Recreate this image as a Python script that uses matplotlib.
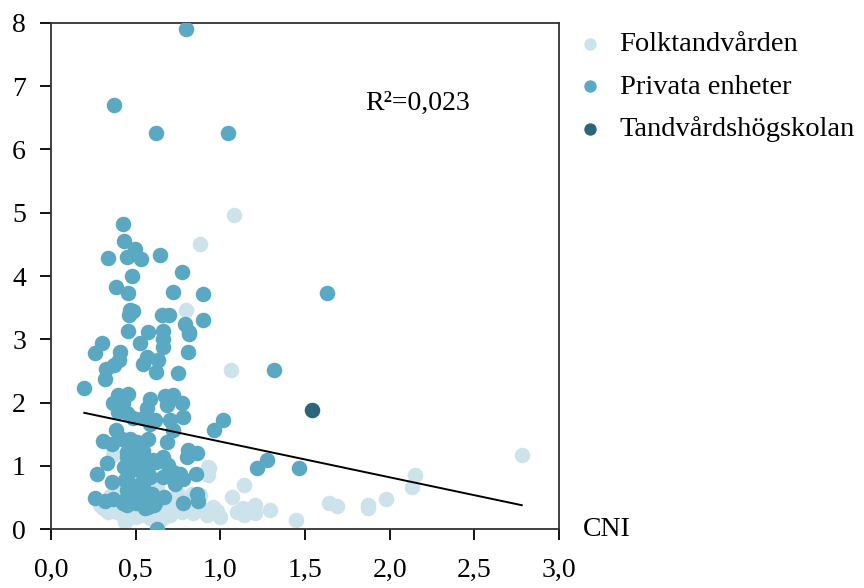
import numpy as np
import matplotlib.pyplot as plt

plt.rcParams['font.family'] = ['Liberation Serif', 'DejaVu Serif']

folk_x = [1.08, 0.88, 0.80, 1.063, 2.78, 2.15, 2.13, 1.977, 1.87, 1.87, 1.64, 1.69,
          1.447, 1.294, 1.205, 1.205, 1.14, 1.14, 0.929, 0.929, 1.067, 1.097, 1.136,
          0.998, 0.959, 0.92, 0.84, 0.772, 0.762, 0.703, 0.654, 0.585, 0.88, 0.831,
          0.585, 0.624, 0.683, 0.457, 0.427, 0.447, 0.388, 0.368, 0.339, 0.309, 0.289,
          0.368, 0.408, 0.52, 0.60, 0.72, 0.80, 0.90, 0.98, 0.55, 0.50, 0.65, 0.75,
          0.87, 0.35, 0.42, 0.53, 0.437, 0.663, 0.935]
folk_y = [4.97, 4.50, 3.47, 2.51, 1.18, 0.86, 0.67, 0.47, 0.39, 0.34, 0.42, 0.37,
          0.15, 0.30, 0.39, 0.26, 0.22, 0.70, 0.98, 0.85, 0.51, 0.27, 0.33,
          0.19, 0.35, 0.22, 0.25, 0.27, 0.43, 0.22, 0.27, 0.17, 0.54, 0.56,
          0.62, 0.67, 0.91, 0.27, 0.22, 0.17, 0.27, 0.35, 0.27, 0.33, 0.38,
          1.17, 0.62, 0.30, 0.28, 0.35, 0.33, 0.30, 0.28, 0.22, 0.20, 0.40, 0.55,
          0.38, 0.52, 0.50, 0.55, 0.12, 0.17, 0.97]

priv_x = [0.80, 0.374, 0.62, 1.045,
          0.423, 0.431, 0.494, 0.451, 0.335, 0.533, 0.646, 0.774, 0.480, 0.382, 0.455,
          0.719, 0.896, 1.63, 0.467, 0.486, 0.459, 0.654, 0.699, 0.79, 0.815, 0.817,
          0.90, 0.455, 0.573, 0.661, 0.66, 0.661, 0.526, 0.303, 0.262, 0.408, 0.403,
          0.811, 0.569, 0.541, 0.630, 0.374, 0.325, 0.620, 0.750, 1.317, 0.319, 0.197,
          0.398, 0.457, 0.368, 0.427, 0.398, 0.447, 0.486, 0.585, 0.569, 0.545, 0.614,
          0.585, 0.673, 0.719, 0.683, 0.772, 0.703, 0.781, 0.722, 0.683, 1.014, 0.963,
          0.384, 0.309, 0.358, 0.418, 0.467, 0.506, 0.575, 0.535, 0.447, 0.811, 0.861,
          0.801, 0.477, 0.545,
          0.447, 0.486, 0.565, 0.604, 0.663, 0.693, 0.620, 0.333, 0.433, 0.555, 1.215,
          1.278, 1.467, 0.270, 0.358, 0.447, 0.526, 0.477, 0.585, 0.575, 0.663, 0.722,
          0.762, 0.781, 0.732, 0.855, 0.437, 0.467, 0.545, 0.506, 0.467, 0.447, 0.545,
          0.260, 0.319, 0.368, 0.447, 0.451, 0.502, 0.555, 0.575, 0.608, 0.669, 0.781,
          0.861, 0.870, 0.496, 0.427, 0.575, 0.595, 0.614, 0.624]
priv_y = [7.90, 6.70, 6.26, 6.26,
          4.82, 4.56, 4.42, 4.30, 4.28, 4.27, 4.33, 4.07, 4.00, 3.82, 3.73,
          3.75, 3.71, 3.74, 3.46, 3.45, 3.38, 3.38, 3.39, 3.24, 3.12, 3.08,
          3.30, 3.13, 3.12, 3.13, 3.00, 2.88, 2.95, 2.95, 2.79, 2.80, 2.68,
          2.80, 2.72, 2.61, 2.67, 2.60, 2.53, 2.49, 2.47, 2.51, 2.37, 2.23,
          2.12, 2.13, 2.00, 1.99, 1.85, 1.83, 1.75, 2.06, 1.91, 1.75, 1.72,
          1.67, 2.10, 2.12, 1.96, 1.99, 1.72, 1.77, 1.56, 1.38, 1.73, 1.56,
          1.56, 1.39, 1.35, 1.43, 1.43, 1.38, 1.43, 1.25, 1.22, 1.25, 1.21,
          1.14, 1.30, 1.24,
          1.14, 1.09, 1.04, 1.09, 1.14, 1.01, 1.06, 1.05, 0.98, 1.01, 0.97,
          1.09, 0.97, 0.88, 0.75, 0.93, 0.93, 0.93, 0.83, 0.89, 0.83, 0.91,
          0.88, 0.80, 0.72, 0.88, 0.77, 0.72, 0.67, 0.62, 0.64, 0.62, 0.77,
          0.50, 0.44, 0.47, 0.51, 0.38, 0.41, 0.33, 0.46, 0.38, 0.51, 0.42,
          0.56, 0.45, 0.51, 0.41, 0.35, 0.56, 0.41, 0.01]

thsk_x = [1.542]
thsk_y = [1.89]

# linear fit shown in the report
fit_intercept = 1.95
fit_slope = -0.565

fig = plt.figure(figsize=(8.64, 5.88), dpi=100)
ax = fig.add_axes([0.059, 0.100, 0.588, 0.861])

msize = 125
ax.scatter(folk_x, folk_y, s=msize, color='#cde3eb', linewidths=0, label='Folktandvården', zorder=2)
ax.scatter(priv_x, priv_y, s=msize, color='#5ba8c3', linewidths=0, label='Privata enheter', zorder=3)
ax.scatter(thsk_x, thsk_y, s=msize, color='#2c667b', linewidths=0, label='Tandvårdshögskolan', zorder=4)

all_x = np.array(folk_x + priv_x + thsk_x)
xs = np.array([all_x.min(), all_x.max()])
ax.plot(xs, fit_intercept + fit_slope * xs, color='black', lw=1.4, zorder=5)

ax.set_xlim(0, 3.0)
ax.set_ylim(0, 8)
ax.set_xticks(np.arange(0, 3.01, 0.5))
ax.set_xticklabels([f'{v:.1f}'.replace('.', ',') for v in np.arange(0, 3.01, 0.5)])
ax.set_yticks(range(0, 9))
ax.tick_params(axis='x', direction='out', length=8, width=1.3, pad=13, labelsize=20)
ax.tick_params(axis='y', direction='out', length=8, width=1.3, pad=10, labelsize=20)
for sp in ax.spines.values():
    sp.set_linewidth(1.3)
    sp.set_color('#333333')

ax.text(1.855, 6.73, 'R²=0,023', fontsize=20, va='center', ha='left')
ax.text(1.047, 0.0, 'CNI', transform=ax.transAxes, fontsize=20, va='center', ha='left')

ax.legend(loc='upper left', bbox_to_anchor=(0.982, 1.034), frameon=False, fontsize=20.5,
          markerscale=0.8, handletextpad=0.55, labelspacing=0.58, handlelength=1.0)

fig.savefig('out.png', dpi=100)
